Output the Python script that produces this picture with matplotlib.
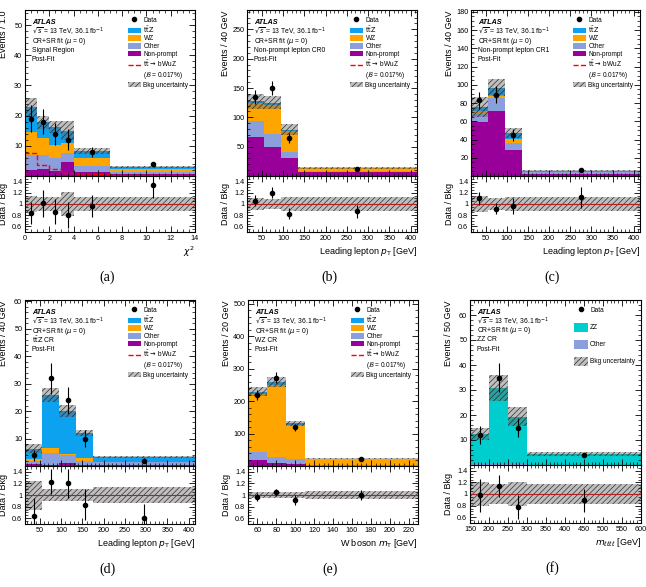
import numpy as np
import matplotlib
matplotlib.use("Agg")
import matplotlib.pyplot as plt
from matplotlib.patches import Patch
from matplotlib.lines import Line2D
from matplotlib.ticker import AutoMinorLocator

plt.rcParams['font.family'] = ['Liberation Sans', 'DejaVu Sans']
plt.rcParams['mathtext.fontset'] = 'dejavusans'
plt.rcParams['hatch.linewidth'] = 0.45

# colours
C_TTZ = '#0da2f0'
C_WZ = '#ffa500'
C_OTHER = '#8a9fdb'
C_NP = '#990099'
C_ZZ = '#00cdcd'

# (a) signal region, chi2
edges_a = [0, 1, 2, 3, 4, 7, 14]
nonprompt_a = [1.9, 2.4, 1.8, 4.6, 1.3, 0.6]
other_a = [5.0, 4.6, 4.3, 3.1, 2.0, 0.6]
wz_a = [7.6, 5.6, 4.3, 3.3, 2.5, 1.0]
ttz_a = [8.2, 5.2, 5.8, 4.0, 2.5, 0.8]
signal_a = [7.6, 3.6, 2.2, 1.0, 0.6, 0.2]
data_a = [19, 18, 14, 12, 8, 4]
data_err_a = [4.4, 4.2, 3.7, 3.5, 1.7, 0.7]
unc_a = [0.14, 0.12, 0.12, 0.21, 0.13, 0.13]

# (b) non-prompt lepton CR0
edges_b = [15, 55, 95, 135, 415]
nonprompt_b = [66, 50, 30, 7]
other_b = [28, 21, 11, 0.7]
wz_b = [31, 50, 36, 5.8]
ttz_b = [2.5, 4, 1.5, 0.3]
signal_b = [0.4, 0.3, 0.2, 0.05]
data_b = [135, 150, 65, 12]
data_err_b = [12, 12.5, 8.2, 1.6]
unc_b = [0.1, 0.09, 0.12, 0.13]

# (c) non-prompt lepton CR1
edges_c = [15, 55, 95, 135, 415]
nonprompt_c = [59, 71, 29, 2.5]
other_c = [9, 14, 7.5, 1.5]
wz_c = [3, 3.5, 4.5, 0.8]
ttz_c = [4.5, 8.5, 6, 1.0]
signal_c = [0.3, 0.3, 0.2, 0.05]
data_c = [83, 89, 45, 6.5]
data_err_c = [9.2, 9.5, 6.8, 1.1]
unc_c = [0.15, 0.1, 0.12, 0.13]

# (d) ttZ CR
edges_d = [15, 55, 95, 135, 175, 415]
nonprompt_d = [0.7, 0.5, 1.0, 0.5, 0.3]
other_d = [1.3, 4.3, 2.9, 1.5, 1.0]
wz_d = [0.7, 1.9, 0.6, 0.8, 0.3]
ttz_d = [3.6, 19.3, 15.5, 9.2, 1.7]
signal_d = [0.1, 0.1, 0.1, 0.05, 0.02]
data_d = [4, 32, 24, 10, 2]
data_err_d = [2.0, 5.7, 4.9, 3.2, 0.8]
unc_d = [0.25, 0.1, 0.11, 0.1, 0.14]

# (e) WZ CR
edges_e = [50, 70, 90, 110, 230]
nonprompt_e = [18, 10, 7, 1]
other_e = [25, 18, 14, 3]
wz_e = [180, 222, 106, 17]
ttz_e = [6, 10, 5, 1]
signal_e = [0.3, 0.3, 0.2, 0.05]
data_e = [220, 272, 120, 22]
data_err_e = [15, 16.5, 11, 2.0]
unc_e = [0.06, 0.06, 0.06, 0.07]

# (f) ZZ CR
edges_f = [150, 200, 250, 300, 600]
zz_f = [12.0, 30.2, 19.0, 4.3]
other_f = [0.3, 0.5, 0.4, 0.2]
data_f = [12, 35, 15, 4]
data_err_f = [3.5, 5.9, 3.9, 0.9]
unc_f = [0.2, 0.17, 0.2, 0.17]

W, H = 646, 587
fig = plt.figure(figsize=(W / 100, H / 100), dpi=100)


def box(left, right, top, bottom):
    return [left / W, 1 - bottom / H, (right - left) / W, (bottom - top) / H]


def style_axis(ax):
    ax.tick_params(which='both', direction='in', top=True, right=True,
                   labelsize=5.2, pad=2)
    ax.tick_params(which='major', length=4, width=0.6)
    ax.tick_params(which='minor', length=2, width=0.5)
    ax.xaxis.set_minor_locator(AutoMinorLocator())
    ax.yaxis.set_minor_locator(AutoMinorLocator())
    for s in ax.spines.values():
        s.set_linewidth(0.8)


def band_patch():
    return dict(facecolor=(0.4, 0.4, 0.4, 0.42), edgecolor='#222222',
                hatch='//////', lw=0)


def draw_panel(geom, edges, stack, signal, data, data_err, unc, xlim, ymax,
               yticks, xticks, xlabel, ylabel, region, letter, wide_legend=False):
    left, right, top, mid, bottom = geom
    ax = fig.add_axes(box(left, right, top, mid))
    rax = fig.add_axes(box(left, right, mid, bottom), sharex=ax)
    edges = np.asarray(edges, float)
    centers = 0.5 * (edges[1:] + edges[:-1])
    unc = np.asarray(unc)
    data = np.asarray(data, float)
    data_err = np.asarray(data_err, float)

    # stacked backgrounds (bottom first)
    base = np.zeros(len(edges) - 1)
    for vals, color, label in stack:
        vals = np.asarray(vals, float)
        ax.stairs(base + vals, edges, baseline=base, fill=True, color=color, lw=0)
        base = base + vals
    total = base
    ax.stairs(total * (1 + unc), edges, baseline=total * (1 - unc), fill=True,
              **band_patch())
    if signal is not None:
        ax.stairs(signal, edges, color='red', ls='--', lw=1.0)
    ax.errorbar(centers, data, yerr=data_err, fmt='o', color='k', ms=3,
                elinewidth=0.8, capsize=0, zorder=5)

    ax.set_xlim(*xlim)
    ax.set_ylim(0, ymax)
    ax.set_yticks(yticks)
    style_axis(ax)
    ax.tick_params(labelbottom=False)
    ax.set_ylabel(ylabel, loc='top', fontsize=6.5)
    ax.yaxis.set_label_coords(-0.1, 1.0)

    # text block
    ax.text(0.04, 0.925, 'ATLAS', transform=ax.transAxes, fontsize=5.2,
            fontweight='bold', fontstyle='italic', va='center')
    lines = [r'$\sqrt{s}$ = 13 TeV, 36.1 fb$^{-1}$', r'CR+SR fit ($\mu$ = 0)',
             region, 'Post-Fit']
    for i, t in enumerate(lines):
        ax.text(0.04, 0.868 - 0.055 * i, t, transform=ax.transAxes,
                fontsize=4.9, va='center')

    # legend
    handles = [Line2D([], [], marker='o', ls='none', color='k', ms=3)]
    labels = ['Data']
    for vals, color, label in stack[::-1]:
        handles.append(Patch(facecolor=color, lw=0))
        labels.append(label)
    if signal is not None:
        handles.append(Line2D([], [], color='red', ls='--', lw=1.0))
        labels.append(r'$\mathrm{t\bar{t}}\rightarrow$ bWuZ')
        handles.append(Line2D([], [], color='none'))
        labels.append(r'($\mathcal{B}$ = 0.017%)')
    handles.append(Patch(**band_patch()))
    labels.append('Bkg uncertainty')
    if wide_legend:
        ax.legend(handles, labels, loc='upper right', frameon=False,
                  fontsize=4.7, labelspacing=1.25, handlelength=2.0,
                  handleheight=1.7, handletextpad=0.4, borderaxespad=0.5)
    else:
        ax.legend(handles, labels, loc='upper right', frameon=False,
                  fontsize=4.7, labelspacing=0.12, handlelength=2.0,
                  handleheight=0.9, handletextpad=0.4, borderaxespad=0.6)

    # ratio panel
    rax.stairs(1 + unc, edges, baseline=1 - unc, fill=True, **band_patch())
    rax.axhline(1, color='#b22222', lw=0.8)
    rax.errorbar(centers, data / total, yerr=data_err / total, fmt='o',
                 color='k', ms=3, elinewidth=0.8, capsize=0, zorder=5)
    rax.set_ylim(0.5, 1.5)
    rax.set_yticks([0.6, 0.8, 1.0, 1.2, 1.4])
    rax.set_yticklabels(['0.6', '0.8', '1', '1.2', '1.4'])
    rax.set_xticks(xticks)
    style_axis(rax)
    rax.set_xlim(*xlim)
    rax.set_ylabel('Data / Bkg', fontsize=6.5)
    rax.yaxis.set_label_coords(-0.1, 0.5)
    rax.set_xlabel(xlabel, loc='right', fontsize=6.5, labelpad=2)

    fig.text(((left + right) / 2 - 3) / W, 1 - (bottom + 45) / H, letter,
             family='Liberation Serif', fontsize=10, ha='center', va='center')


bkg_stack = lambda np_, oth, wz, ttz: [
    (np_, C_NP, 'Non-prompt'), (oth, C_OTHER, 'Other'),
    (wz, C_WZ, 'WZ'), (ttz, C_TTZ, r'$\mathrm{t\bar{t}Z}$')]

lep_pt = r'Leading lepton $p_{\rm T}$ [GeV]'
pt_ticks = [50, 100, 150, 200, 250, 300, 350, 400]

draw_panel((25, 195, 10, 176, 232), edges_a,
           bkg_stack(nonprompt_a, other_a, wz_a, ttz_a), signal_a,
           data_a, data_err_a, unc_a, (0, 14), 55, [10, 20, 30, 40, 50],
           range(0, 15, 2), r'$\chi^2$', 'Events / 1.0', 'Signal Region', '(a)')
draw_panel((247, 417, 10, 176, 232), edges_b,
           bkg_stack(nonprompt_b, other_b, wz_b, ttz_b), signal_b,
           data_b, data_err_b, unc_b, (15, 415), 283, [50, 100, 150, 200, 250],
           pt_ticks, lep_pt, 'Events / 40 GeV', 'Non-prompt lepton CR0', '(b)')
draw_panel((471, 640, 10, 176, 232), edges_c,
           bkg_stack(nonprompt_c, other_c, wz_c, ttz_c), signal_c,
           data_c, data_err_c, unc_c, (15, 415), 182,
           [20, 40, 60, 80, 100, 120, 140, 160, 180],
           pt_ticks, lep_pt, 'Events / 40 GeV', 'Non-prompt lepton CR1', '(c)')
draw_panel((25, 195, 300, 466, 524), edges_d,
           bkg_stack(nonprompt_d, other_d, wz_d, ttz_d), signal_d,
           data_d, data_err_d, unc_d, (15, 415), 60.5, [10, 20, 30, 40, 50, 60],
           pt_ticks, lep_pt, 'Events / 40 GeV', r'$\mathrm{t\bar{t}Z}$ CR', '(d)')
draw_panel((248, 418, 300, 466, 524), edges_e,
           bkg_stack(nonprompt_e, other_e, wz_e, ttz_e), signal_e,
           data_e, data_err_e, unc_e, (50, 230), 512, [100, 200, 300, 400, 500],
           range(60, 221, 20), r'W boson $m_{\rm T}$ [GeV]', 'Events / 20 GeV',
           'WZ CR', '(e)')
draw_panel((470, 641, 300, 465, 523), edges_f,
           [(other_f, C_OTHER, 'Other'), (zz_f, C_ZZ, 'ZZ')], None,
           data_f, data_err_f, unc_f, (150, 600), 66, [10, 20, 30, 40, 50, 60],
           range(150, 601, 50), r'$m_{\ell\ell\ell\ell}$ [GeV]', 'Events / 50 GeV',
           'ZZ CR', '(f)', wide_legend=True)

fig.savefig('out.png', dpi=100)
